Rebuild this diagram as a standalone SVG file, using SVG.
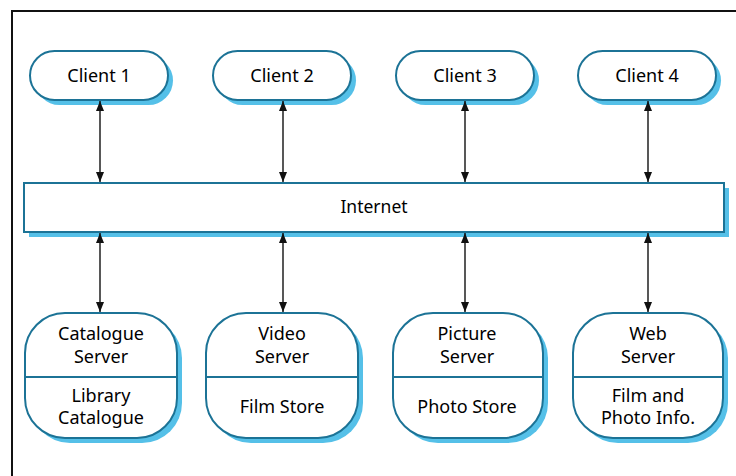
<svg xmlns="http://www.w3.org/2000/svg" width="736" height="476" viewBox="0 0 736 476">
<defs>
<style>
.sh{fill:#55c0e8;stroke:none}
.bx{fill:#ffffff;stroke:#1c7396;stroke-width:2}
.dv{stroke:#1c7396;stroke-width:2;fill:none}
.t{font-family:"Noto Sans","Open Sans",sans-serif;font-size:18px;fill:#000;text-anchor:middle}
.ln{stroke:#111;stroke-width:1.4;fill:none;marker-start:url(#ah);marker-end:url(#ah)}
</style>
<marker id="ah" viewBox="0 0 10 8" refX="10" refY="4" markerWidth="10" markerHeight="8" markerUnits="userSpaceOnUse" orient="auto-start-reverse">
<path d="M0,0 L10,4 L0,8 Z" fill="#111"/>
</marker>
</defs>
<rect x="0" y="0" width="736" height="476" fill="#ffffff"/>
<rect x="12" y="11" width="740" height="480" fill="none" stroke="#111" stroke-width="2"/>

<g id="client1">
<rect class="sh" x="35" y="56" width="138" height="49" rx="24.5"/>
<rect class="bx" x="30" y="51" width="138" height="49" rx="24.5"/>
<text class="t" x="99" y="82">Client 1</text>
</g>
<g id="client2">
<rect class="sh" x="218" y="56" width="138" height="49" rx="24.5"/>
<rect class="bx" x="213" y="51" width="138" height="49" rx="24.5"/>
<text class="t" x="282" y="82">Client 2</text>
</g>
<g id="client3">
<rect class="sh" x="401" y="56" width="138" height="49" rx="24.5"/>
<rect class="bx" x="396" y="51" width="138" height="49" rx="24.5"/>
<text class="t" x="465" y="82">Client 3</text>
</g>
<g id="client4">
<rect class="sh" x="583" y="56" width="138" height="49" rx="24.5"/>
<rect class="bx" x="578" y="51" width="138" height="49" rx="24.5"/>
<text class="t" x="647" y="82">Client 4</text>
</g>

<g id="internet">
<rect class="sh" x="29" y="188" width="700" height="49"/>
<rect class="bx" x="24" y="183" width="700" height="49"/>
<text class="t" x="374" y="213" style="font-size:17.5px">Internet</text>
</g>

<g id="catalogue-server">
<rect class="sh" x="30" y="318" width="152" height="125" rx="40"/>
<rect class="bx" x="25" y="313" width="152" height="125" rx="40"/>
<line class="dv" x1="25" y1="377" x2="177" y2="377"/>
<text class="t" x="101" y="340">Catalogue</text>
<text class="t" x="101" y="363">Server</text>
<text class="t" x="101" y="402">Library</text>
<text class="t" x="101" y="424">Catalogue</text>
</g>
<g id="video-server">
<rect class="sh" x="211" y="318" width="152" height="125" rx="40"/>
<rect class="bx" x="206" y="313" width="152" height="125" rx="40"/>
<line class="dv" x1="206" y1="377" x2="358" y2="377"/>
<text class="t" x="282" y="340">Video</text>
<text class="t" x="282" y="363">Server</text>
<text class="t" x="282" y="413">Film Store</text>
</g>
<g id="picture-server">
<rect class="sh" x="398" y="318" width="150" height="125" rx="40"/>
<rect class="bx" x="393" y="313" width="150" height="125" rx="40"/>
<line class="dv" x1="393" y1="377" x2="543" y2="377"/>
<text class="t" x="467" y="340">Picture</text>
<text class="t" x="467" y="363">Server</text>
<text class="t" x="467" y="413">Photo Store</text>
</g>
<g id="web-server">
<rect class="sh" x="578" y="318" width="150" height="125" rx="40"/>
<rect class="bx" x="573" y="313" width="150" height="125" rx="40"/>
<line class="dv" x1="573" y1="377" x2="723" y2="377"/>
<text class="t" x="648" y="340">Web</text>
<text class="t" x="648" y="363">Server</text>
<text class="t" x="648" y="402">Film and</text>
<text class="t" x="648" y="424">Photo Info.</text>
</g>

<g id="connectors">
<line class="ln" x1="100" y1="101" x2="100" y2="182"/>
<line class="ln" x1="283" y1="101" x2="283" y2="182"/>
<line class="ln" x1="465" y1="101" x2="465" y2="182"/>
<line class="ln" x1="648" y1="101" x2="648" y2="182"/>
<line class="ln" x1="100" y1="233" x2="100" y2="312"/>
<line class="ln" x1="283" y1="233" x2="283" y2="312"/>
<line class="ln" x1="465" y1="233" x2="465" y2="312"/>
<line class="ln" x1="648" y1="233" x2="648" y2="312"/>
</g>
</svg>
